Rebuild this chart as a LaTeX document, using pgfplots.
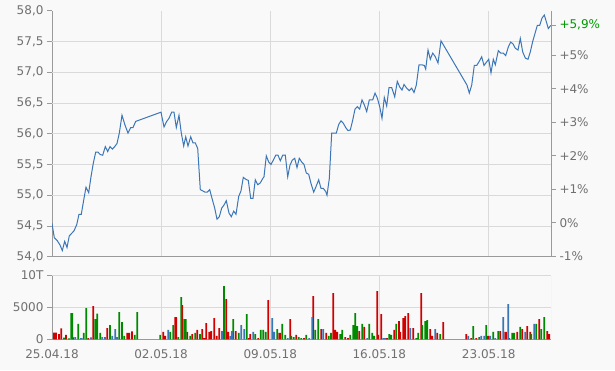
\documentclass[border=0pt]{standalone}
\usepackage{fontspec}
\setmainfont{DejaVu Sans}
\usepackage{pgfplots}
\pgfplotsset{compat=1.18}
\definecolor{bg}{HTML}{F9F9F9}
\definecolor{gridc}{HTML}{DADADA}
\definecolor{axc}{HTML}{9A9A9A}
\definecolor{txt}{HTML}{707070}
\definecolor{linec}{HTML}{3D76B6}
\definecolor{vred}{HTML}{D00000}
\definecolor{vgreen}{HTML}{008A00}
\definecolor{vblue}{HTML}{3A75B5}
\definecolor{pgreen}{HTML}{009A00}
\begin{document}
\begin{tikzpicture}[x=1pt,y=1pt]
\fill[bg] (0,0) rectangle (615,370);
\useasboundingbox (0,0) rectangle (615,370);
\pgfplotsset{
  every axis/.append style={
    font=\fontsize{12}{14}\selectfont,
    scale only axis,
    anchor=south west,
    width=499pt,
    xmin=52, xmax=551,
    tick label style={text=txt},
    axis line style={axc, line width=0.8pt},
    major tick length=5pt,
    tick align=outside,
    ytick style={axc, line width=0.8pt},
    xtick style={draw=none},
    grid style={gridc, line width=0.8pt},
    clip=true,
  },
  /pgf/number format/assume math mode=true,
}
% ---------------- main price axis ----------------
\begin{axis}[
  at={(52pt,113.3pt)}, height=246pt,
  ymin=54, ymax=58,
  axis x line*=bottom, axis y line*=left,
  xtick={52,161,270.3,379.3,488.7}, xticklabels={},
  xmajorgrids,
  ytick={54,54.5,55,55.5,56,56.5,57,57.5,58},
  yticklabel style={/pgf/number format/.cd, fixed, fixed zerofill, precision=1, use comma},
  extra y ticks={54.5,55,55.5,56,56.5,57,57.5},
  extra y tick labels={},
  extra y tick style={ymajorgrids=true, ytick style={draw=none}},
]
\addplot[linec, line width=1pt] coordinates {
(52,54.54) (54.3,54.31) (57.3,54.26) (60,54.19) (62.3,54.10) (64.7,54.25) (67,54.15) (69.3,54.34)
(71.7,54.38) (74,54.42) (76.7,54.52) (79,54.69) (81.3,54.69) (83.7,54.92) (86,55.13) (88.7,55.04)
(91,55.30) (93.3,55.52) (95.7,55.70) (98,55.70) (100.3,55.66) (102.7,55.65) (105.3,55.79) (107.7,55.71)
(110,55.79) (112.3,55.75) (114.7,55.79) (117,55.84) (119.3,56.01) (122,56.30) (125,56.14) (128,56.01)
(130.7,56.10) (133,56.10) (135.7,56.20) (161,56.35) (164,56.11) (166.7,56.20) (169,56.25) (171.7,56.35)
(174,56.35) (176.3,56.10) (179,56.30) (181.3,56.01) (183.7,55.80) (185.7,55.95) (188,55.80) (190.7,55.95)
(193,55.85) (195.3,55.85) (197.7,55.76) (200.3,55.09) (202.7,55.07) (205,55.05) (207.3,55.05) (209.7,55.09)
(212,54.95) (214.7,54.79) (217,54.61) (219.3,54.65) (221.7,54.79) (224,54.84) (226.3,54.91) (229,54.71)
(231.3,54.65) (233.7,54.74) (236,54.69) (238.7,54.98) (241,55.07) (243.3,55.29) (245.7,55.26) (248.3,55.24)
(250.7,54.95) (253,54.95) (255.3,55.25) (257.7,55.17) (260.3,55.20) (262.7,55.27) (264,55.30) (266.3,55.64)
(268.7,55.54) (271,55.50) (273.3,55.57) (275.7,55.65) (278,55.65) (280.3,55.56) (282.7,55.65) (285.3,55.65)
(287.7,55.30) (290,55.49) (292.3,55.57) (294.7,55.60) (297,55.45) (299.3,55.60) (301.7,55.54) (304,55.50)
(306.3,55.36) (308.7,55.34) (311,55.19) (313.7,55.05) (316,55.14) (318.7,55.25) (321,55.11) (323.3,55.11)
(325.7,55.06) (327,55.00) (329.3,55.27) (331.7,56.01) (334,56.01) (336.3,56.01) (338.7,56.15) (341,56.21)
(343.3,56.17) (345.7,56.10) (348,56.05) (350.3,56.06) (352.7,56.22) (355,56.40) (357.3,56.44) (359.7,56.40)
(362,56.55) (364.3,56.47) (366.7,56.36) (369.3,56.55) (372.7,56.55) (375,56.66) (377.3,56.58) (379.7,56.44)
(382,56.25) (384.3,56.59) (386.7,56.45) (389,56.75) (391.7,56.75) (394.7,56.60) (397.3,56.85) (399.7,56.76)
(402,56.71) (404,56.80) (406.7,56.74) (409.3,56.70) (411.7,56.74) (414,56.67) (416.3,56.79) (419,57.12)
(421.7,57.12) (424.3,57.11) (425.7,57.05) (428,57.36) (430.3,57.21) (432.7,57.31) (435,57.26) (438,57.15)
(441,57.51) (467,56.79) (469.3,56.66) (471.7,56.79) (474.3,57.11) (476.7,57.11) (479,57.17) (481.7,57.25)
(484,57.11) (486.3,57.16) (488.7,57.21) (491,56.99) (493.3,57.21) (495.3,57.12) (498.3,57.35) (500.7,57.31)
(503.3,57.31) (505.7,57.27) (508.3,57.41) (510.7,57.49) (513,57.46) (515.3,57.39) (518,57.36) (520.3,57.55)
(522.7,57.33) (525.3,57.23) (528,57.21) (530.3,57.33) (532.7,57.50) (535,57.63) (537.3,57.76) (539.7,57.76)
(542,57.88) (544.3,57.93) (546.7,57.80) (548.3,57.71) (550.7,57.76)
};
\end{axis}
% ---------------- right percent axis ----------------
\begin{axis}[
  at={(52pt,113.3pt)}, height=246pt,
  ymin=54, ymax=58,
  axis x line=none, axis y line*=right,
  ytick={54.0045,54.55,55.0955,55.641,56.1865,56.732,57.2775},
  yticklabels={{-1\%},{0\%},{+1\%},{+2\%},{+3\%},{+4\%},{+5\%}},
  extra y ticks={57.768},
  extra y tick labels={+5{,}9\%},
  extra y tick style={yticklabel style={text=pgreen}},
]
\addplot[draw=none] coordinates {(52,54) (551,58)};
\end{axis}
% ---------------- volume axis ----------------
\begin{axis}[
  at={(52pt,30.7pt)}, height=63.8pt,
  ymin=0, ymax=10000,
  axis x line*=bottom, axis y line*=left,
  xtick={52,161,270.3,379.3,488.7},
  xticklabels={25.04.18,02.05.18,09.05.18,16.05.18,23.05.18},
  xticklabel style={yshift=-2pt},
  xmajorgrids, ymajorgrids,
  ytick={0,5000,10000}, yticklabels={0,5000,10T},
  scaled y ticks=false,
]
\draw[gridc, line width=0.8pt] (rel axis cs:1,0) -- (rel axis cs:1,1);
\addplot[ybar, bar width=1.7, bar shift=0pt, fill=vred, draw=none] coordinates {
(54.0,1040) (56.0,1040) (59.0,830) (61.3,1720) (66.0,680) (73.3,310) (88.3,200) (93.3,5200)
(107.3,1770) (127.3,990) (129.3,990) (132.0,1250) (163.3,1150) (165.3,520) (175.3,3490) (176.3,3490)
(182.3,5360) (187.3,1150) (192.3,830) (197.3,1460) (202.3,1610) (204.3,200) (206.3,2550) (209.3,1150)
(211.3,1300) (214.3,3330) (216.7,520) (219.3,1770) (226.3,6300) (228.3,1150) (235.7,1300) (248.7,200)
(250.3,830) (258.3,200) (268.3,6150) (279.3,990) (280.3,990) (290.3,3180) (296.3,680)
(304.0,200) (313.3,6770) (321.3,1610) (326.3,990) (333.3,7240) (335.3,1460) (337.3,1150) (345.3,360)
(348.0,200) (359.3,1300) (364.3,1930) (377.3,7550) (378.3,680) (381.3,3960) (387.0,200) (394.3,1460)
(399.0,2860) (400.3,1150) (403.3,3330) (405.3,3650) (408.3,4110) (413.3,1770) (421.3,7240) (430.3,1610)
(432.3,520) (437.3,990) (443.3,2710) (466.3,830) (471.3,200) (476.3,200) (487.3,520) (488.7,520)
(500.3,1300) (505.3,1150) (506.3,1150) (517.3,1150) (522.3,1610) (527.3,2080) (530.3,1150) (539.3,3180)
(547.3,1300) (549.3,830)
};
\addplot[ybar, bar width=1.7, bar shift=0pt, fill=vgreen, draw=none] coordinates {
(64.0,260) (69.0,150) (71.3,4110) (72.3,4110) (78.3,2400) (83.7,990) (86.3,4900) (95.3,3180)
(97.3,4010) (100.3,990) (110.0,2240) (119.3,4270) (122.0,2710) (124.3,520) (134.7,680) (137.3,4270)
(160.3,680) (170.3,1150) (173.3,2240) (178.3,360) (181.3,6610) (184.3,3180) (185.7,3180) (190.3,520)
(195.3,990) (200.0,830) (224.0,8330) (233.3,3180) (238.7,990) (246.7,3960) (255.3,830) (260.7,1460)
(263.3,1460) (265.7,1150) (277.3,1610) (282.3,2400) (285.3,680) (291.3,520) (293.7,360) (298.7,360)
(301.3,200) (306.3,680) (315.3,1460) (318.3,3180) (328.7,520) (331.0,990) (340.3,830) (342.3,1460)
(350.3,680) (353.3,2240) (355.3,4110) (357.3,2080) (362.3,2400) (369.3,2400) (372.3,990) (374.3,520)
(389.3,830) (391.3,680) (396.3,2400) (416.3,200) (418.3,990) (422.3,2240) (425.3,2860) (427.3,3020)
(440.3,830) (473.3,2080) (479.3,360) (486.3,2240) (493.3,1150) (498.3,1300) (509.3,200) (512.3,990)
(514.3,990) (520.3,1930) (531.3,830) (536.3,2400) (541.3,1610) (544.3,3490)
};
\addplot[ybar, bar width=1.7, bar shift=0pt, fill=vblue, draw=none] coordinates {
(75.3,360) (80.7,200) (81.7,200) (91.0,300) (102.3,360) (105.0,360) (112.3,520) (115.3,1610)
(117.3,360) (168.3,1460) (222.0,1300) (230.3,520) (232.0,1300) (241.3,2240) (244.3,1610) (253.3,1150)
(272.3,3330) (274.3,1150) (287.7,200) (309.3,200) (312.3,3490) (323.3,1610) (367.3,200) (383.3,200)
(385.3,200) (410.3,1770) (435.3,1610) (468.3,520) (481.3,520) (484.3,520) (490.3,520) (495.3,200)
(503.3,3490) (508.3,5520) (525.3,1150) (534.3,2400)
};
\end{axis}
\end{tikzpicture}
\end{document}
